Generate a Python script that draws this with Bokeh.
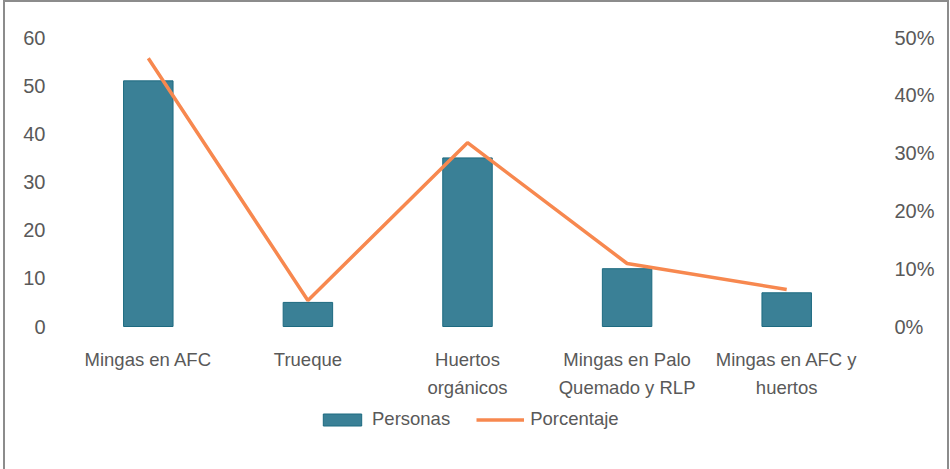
from bokeh.plotting import figure
from bokeh.models import (Range1d, LinearAxis, FixedTicker, NumeralTickFormatter,
                          Legend, LegendItem, ColumnDataSource)
from bokeh.core.properties import value
from bokeh.embed import file_html
from bokeh.resources import INLINE

# Participation by activity type
categories = ["Mingas en AFC", "Trueque", "Huertos orgánicos",
              "Mingas en Palo Quemado y RLP", "Mingas en AFC y huertos"]
label_line1 = ["Mingas en AFC", "Trueque", "Huertos", "Mingas en Palo", "Mingas en AFC y"]
label_line2 = ["", "", "orgánicos", "Quemado y RLP", "huertos"]
personas = [51, 5, 35, 12, 7]
porcentaje = [0.464, 0.045, 0.318, 0.109, 0.064]

left_ticks = [0, 10, 20, 30, 40, 50, 60]
right_ticks = [0, 0.1, 0.2, 0.3, 0.4, 0.5]

TEXT = "#595959"
BAR = "#3a8096"
BAR_EDGE = "#1d6a80"
LINE = "#f7884f"
FONT = "Liberation Sans"

# The frame runs down to the page bottom so the category names and the
# legend can sit inside it, below the zero line.
FRAME_H = 432
PX_PER_UNIT = 289 / 60.0
y_low = -(FRAME_H - 289) / PX_PER_UNIT
pct_low = y_low / 60.0 * 0.5

src = ColumnDataSource(dict(cat=categories, personas=personas, pct=porcentaje))
lab = ColumnDataSource(dict(cat=categories, l1=label_line1, l2=label_line2))

p = figure(x_range=categories, frame_width=798, frame_height=FRAME_H,
           output_backend="svg", toolbar_location=None,
           y_axis_location=None, x_axis_location=None)
p.styles = {"border-left": "2px solid #8c8c8c", "border-right": "2px solid #8c8c8c",
            "border-top": "2px solid #8c8c8c", "margin-left": "3px"}
p.y_range = Range1d(y_low, 60)
p.extra_y_ranges = {"pct": Range1d(pct_low, 0.5)}

p.min_border_left = 63
p.min_border_right = 81
p.min_border_top = 35
p.min_border_bottom = 0
p.outline_line_color = None
p.xgrid.grid_line_color = None
p.ygrid.grid_line_color = None

bars = p.vbar(x="cat", top="personas", width=0.31, source=src,
              fill_color=BAR, line_color=BAR_EDGE, line_width=1)
line = p.line(x="cat", y="pct", source=src, y_range_name="pct",
              line_color=LINE, line_width=3.5)


def plain(ax):
    ax.axis_line_color = None
    ax.major_tick_line_color = None
    ax.minor_tick_line_color = None
    ax.major_label_text_color = TEXT
    ax.major_label_text_font = FONT
    ax.major_label_text_font_size = "20px"


left = LinearAxis(ticker=FixedTicker(ticks=left_ticks))
right = LinearAxis(y_range_name="pct", ticker=FixedTicker(ticks=right_ticks),
                   formatter=NumeralTickFormatter(format="0%"))
plain(left)
plain(right)
left.major_label_standoff = 17
right.major_label_standoff = 22
p.add_layout(left, "left")
p.add_layout(right, "right")

# Category names, two rows under each bar
row1_y = -33 / PX_PER_UNIT
row2_y = -61 / PX_PER_UNIT
for col, yy in (("l1", row1_y), ("l2", row2_y)):
    p.text(x="cat", y=yy, text=col, source=lab, text_align="center",
           text_baseline="middle", text_color=TEXT,
           text_font=value(FONT), text_font_size="18.5px")

# Legend row at the bottom
legend = Legend(items=[LegendItem(label="Personas", renderers=[bars]),
                       LegendItem(label="Porcentaje", renderers=[line])],
                orientation="horizontal", location=(250, 39),
                glyph_width=48, glyph_height=15, label_standoff=6, spacing=26,
                label_text_font=FONT, label_text_font_size="18.5px",
                label_text_color=TEXT, border_line_color=None,
                background_fill_alpha=0, padding=0, margin=0)
p.add_layout(legend, "center")

open("out.html", "w").write(file_html(p, INLINE))
